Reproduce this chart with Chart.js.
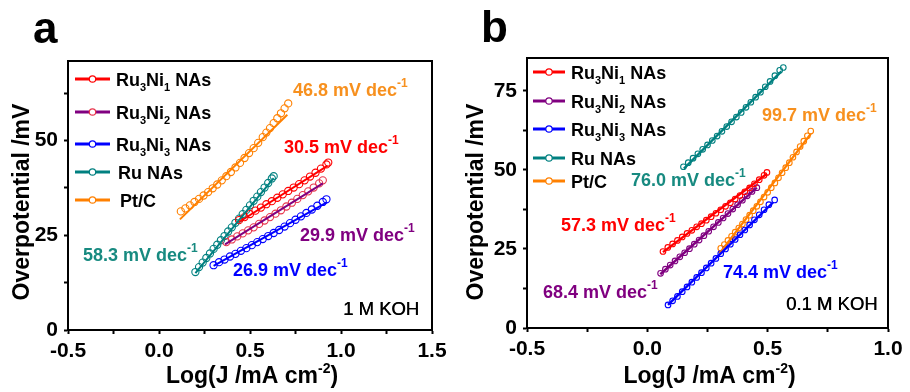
<!DOCTYPE html>
<html><head><meta charset="utf-8">
<script src="https://cdn.jsdelivr.net/npm/chart.js@4.4.0/dist/chart.umd.min.js"></script>
<style>
html,body{margin:0;padding:0;background:#fff;}
#wrap{position:relative;width:910px;height:392px;overflow:hidden;}
.c{position:absolute;top:0;width:455px;height:392px;}
</style></head><body>
<div id="wrap">
<div class="c" style="left:0"><canvas id="ca" width="455" height="392"></canvas></div>
<div class="c" style="left:455px"><canvas id="cb" width="455" height="392"></canvas></div>
</div>
<script>
// ---------- series names & colours ----------
const SERIES = ['Ru3Ni1 NAs','Ru3Ni2 NAs','Ru3Ni3 NAs','Ru NAs','Pt/C'];
const COLORS = ['#ff0000','#800080','#0000ff','#008080','#ff8000'];

// ---------- panel a (1 M KOH) ----------
const A_RU3NI1_X = [0.44,0.47,0.50,0.53,0.56,0.59,0.62,0.65,0.68,0.71,0.74,0.77,0.80,0.83,0.86,0.89,0.92,0.93];
const A_RU3NI1_Y = [29.0,29.8,30.6,31.5,32.3,33.2,34.0,34.9,35.8,36.7,37.6,38.5,39.5,40.5,41.5,42.6,43.7,44.2];
const A_RU3NI2_X = [0.37,0.40,0.43,0.46,0.49,0.52,0.55,0.58,0.61,0.64,0.67,0.70,0.73,0.76,0.79,0.82,0.85,0.88,0.90];
const A_RU3NI2_Y = [23.2,23.9,24.7,25.5,26.3,27.1,28.0,28.9,29.8,30.7,31.6,32.6,33.6,34.6,35.6,36.6,37.6,38.7,39.5];
const A_RU3NI3_X = [0.30,0.33,0.36,0.39,0.42,0.45,0.48,0.51,0.54,0.57,0.60,0.63,0.66,0.69,0.72,0.75,0.78,0.81,0.84,0.87,0.90,0.92];
const A_RU3NI3_Y = [17.1,17.9,18.6,19.4,20.1,20.9,21.6,22.4,23.2,24.0,24.8,25.6,26.4,27.3,28.2,29.1,30.0,30.9,31.8,32.8,33.8,34.5];
const A_RU_X = [0.20,0.22,0.24,0.26,0.28,0.30,0.32,0.34,0.36,0.38,0.40,0.42,0.44,0.46,0.48,0.50,0.52,0.54,0.56,0.58,0.60,0.62,0.63];
const A_RU_Y = [15.3,16.6,17.8,19.0,20.2,21.4,22.5,23.7,24.8,26.0,27.1,28.3,29.4,30.6,31.7,32.9,34.1,35.2,36.4,37.6,38.8,40.0,40.6];
const A_PTC_X = [0.12,0.145,0.17,0.195,0.22,0.245,0.27,0.295,0.32,0.345,0.37,0.395,0.42,0.445,0.47,0.495,0.52,0.545,0.57,0.59,0.61,0.63,0.65,0.67,0.69,0.71];
const A_PTC_Y = [31.3,32.1,32.9,33.8,34.6,35.5,36.4,37.4,38.4,39.5,40.6,41.7,42.9,44.1,45.4,46.7,48.0,49.4,50.9,52.1,53.3,54.6,55.9,57.2,58.5,59.8];
// fitted Tafel lines (endpoints)
const A_FIT_X = [[0.44,0.925],[0.363,0.90],[0.30,0.92],[0.20,0.63],[0.115,0.705]];
const A_FIT_Y = [[28.5,43.3],[22.6,38.7],[16.9,33.6],[15.0,40.1],[29.2,56.8]];
const A_SLOPES = ['30.5','29.9','26.9','58.3','46.8'];

// ---------- panel b (0.1 M KOH) ----------
const B_RU3NI1_X = [0.065,0.085,0.105,0.125,0.145,0.165,0.185,0.205,0.225,0.245,0.265,0.285,0.305,0.325,0.345,0.365,0.385,0.405,0.425,0.445,0.465,0.485,0.497];
const B_RU3NI1_Y = [24.2,25.5,26.6,27.7,28.8,29.9,30.9,32.0,33.0,34.1,35.2,36.3,37.4,38.5,39.6,40.8,41.9,43.1,44.3,45.6,46.9,48.3,49.2];
const B_RU3NI2_X = [0.055,0.075,0.095,0.115,0.135,0.155,0.175,0.195,0.215,0.235,0.255,0.275,0.295,0.315,0.335,0.355,0.375,0.395,0.415,0.435,0.455];
const B_RU3NI2_Y = [17.3,18.6,19.9,21.2,22.5,23.8,25.1,26.5,27.8,29.2,30.6,32.0,33.4,34.8,36.2,37.6,39.0,40.4,41.8,43.2,44.4];
const B_RU3NI3_X = [0.086,0.105,0.125,0.145,0.165,0.185,0.205,0.225,0.245,0.265,0.285,0.305,0.325,0.345,0.365,0.385,0.405,0.425,0.445,0.465,0.485,0.505,0.529];
const B_RU3NI3_Y = [7.3,8.6,10.0,11.5,13.0,14.5,16.0,17.5,19.0,20.5,22.0,23.5,25.0,26.5,28.0,29.5,31.0,32.6,34.2,35.8,37.4,39.0,40.5];
const B_RU_X = [0.15,0.17,0.19,0.21,0.23,0.25,0.27,0.29,0.31,0.33,0.35,0.37,0.39,0.41,0.43,0.45,0.47,0.49,0.51,0.53,0.55,0.565];
const B_RU_Y = [51.0,52.3,53.7,55.1,56.5,57.9,59.3,60.7,62.2,63.7,65.2,66.7,68.2,69.8,71.4,73.0,74.6,76.3,78.0,79.8,81.5,82.4];
const B_PTC_X = [0.305,0.32,0.335,0.35,0.365,0.38,0.395,0.41,0.425,0.44,0.455,0.47,0.485,0.50,0.515,0.53,0.545,0.56,0.575,0.59,0.605,0.62,0.635,0.65,0.665,0.679];
const B_PTC_Y = [25.2,26.4,27.7,29.0,30.3,31.6,32.9,34.3,35.7,37.1,38.5,39.9,41.4,42.9,44.4,45.9,47.5,49.1,50.7,52.3,54.0,55.7,57.4,59.1,60.8,62.3];
const B_FIT_X = [[0.065,0.497],[0.054,0.455],[0.086,0.522],[0.152,0.557],[0.30,0.679]];
const B_FIT_Y = [[24.0,48.8],[17.0,44.4],[7.3,39.7],[50.4,81.2],[23.6,61.4]];
const B_SLOPES = ['57.3','68.4','74.4','76.0','99.7'];

// ---------- axes ----------
const A_XTICKS = [-0.5,0,0.5,1.0,1.5];
const A_XLABELS = ['-0.5','0.0','0.5','1.0','1.5'];
const A_XMINOR = [-0.25,0.25,0.75,1.25];
const A_YTICKS = [0,25,50];
const A_YLABELS = ['0','25','50'];
const A_YMINOR = [12.5,37.5,62.5];
const B_XTICKS = [-0.5,0,0.5,1.0];
const B_XLABELS = ['-0.5','0.0','0.5','1.0'];
const B_XMINOR = [-0.25,0.25,0.75];
const B_YTICKS = [0,25,50,75];
const B_YLABELS = ['0','25','50','75'];
const B_YMINOR = [12.5,37.5,62.5];

const FONT = "'Liberation Sans', Arial, sans-serif";

function pts(xs, ys){ return xs.map((x,i)=>({x:x, y:ys[i]})); }

function richWidth(ctx, parts){
  let w=0; for(const p of parts){ ctx.font = p.f; w += ctx.measureText(p.t).width; } return w;
}
function drawRich(ctx, parts, x, y, color, align){
  ctx.save(); ctx.fillStyle=color; ctx.textBaseline='alphabetic'; ctx.textAlign='left';
  let cx = x;
  if(align==='center') cx = x - richWidth(ctx, parts)/2;
  for(const p of parts){ ctx.font=p.f; ctx.fillText(p.t, cx, y + (p.dy||0)); cx += ctx.measureText(p.t).width; }
  ctx.restore();
}
function nameParts(name, size){
  const big = 'bold '+size+'px '+FONT, small = 'bold '+Math.round(size*0.62)+'px '+FONT;
  const m = name.match(/^Ru3Ni(\d) NAs$/);
  if(m) return [{t:'Ru',f:big},{t:'3',f:small,dy:5},{t:'Ni',f:big},{t:m[1],f:small,dy:5},{t:' NAs',f:big}];
  return [{t:name,f:big}];
}
function slopeParts(s){
  const big='bold 18px '+FONT, small='bold 12px '+FONT;
  return [{t:s+' mV dec',f:big},{t:'-1',f:small,dy:-9}];
}

function makeChart(id, cfg){
  const datasets = [];
  cfg.series.forEach((s,i)=>{
    datasets.push({data: pts(s.x, s.y), showLine:false, pointRadius:cfg.r, pointStyle:'circle',
      pointBorderColor:s.mc || COLORS[i], pointBackgroundColor:'rgba(255,255,255,0)', pointBorderWidth:1.1, order:2});
    datasets.push({data: pts(cfg.fitX[i], cfg.fitY[i]), showLine:true, pointRadius:0, borderColor:COLORS[i],
      borderWidth:cfg.lw, fill:false, order:1});
  });
  const ticksFor = (majors, minors) => (scale)=>{
    scale.ticks = majors.concat(minors).sort((a,b)=>a-b).map(v=>({value:v}));
  };
  const lab = (majors, labels) => (v)=>{
    const i = majors.findIndex(m=>Math.abs(m-v)<1e-9); return i>=0 ? labels[i] : '';
  };
  const deco = {
    id:'deco',
    afterDraw(chart){
      const ctx = chart.ctx, a = chart.chartArea;
      ctx.save();
      ctx.strokeStyle='#000'; ctx.lineWidth=2;
      ctx.beginPath(); ctx.moveTo(a.left, a.top); ctx.lineTo(a.right, a.top); ctx.lineTo(a.right, a.bottom); ctx.stroke();
      // panel letter
      ctx.fillStyle='#000'; ctx.font='bold 44px '+FONT; ctx.textBaseline='alphabetic';
      ctx.fillText(cfg.letter, cfg.letterX, cfg.letterY);
      // axis titles
      drawRich(ctx, [{t:'Log(J /mA cm',f:'bold 23px '+FONT},{t:'-2',f:'bold 14px '+FONT,dy:-10},{t:')',f:'bold 23px '+FONT}],
        (a.left+a.right)/2 + 2, 383, '#000', 'center');
      ctx.save(); ctx.translate(cfg.yTitleX, 202); ctx.rotate(-Math.PI/2);
      ctx.font='bold 23px '+FONT; ctx.textAlign='center'; ctx.textBaseline='middle'; ctx.fillStyle='#000';
      ctx.fillText('Overpotential /mV', 0, 0); ctx.restore();
      // legend
      cfg.legend.forEach((L,i)=>{
        ctx.strokeStyle=COLORS[i]; ctx.lineWidth=3;
        ctx.beginPath(); ctx.moveTo(L.x0, L.y); ctx.lineTo(L.x1, L.y); ctx.stroke();
        ctx.lineWidth=1.2; ctx.fillStyle='#fff'; ctx.strokeStyle=(cfg.series[i].mc||COLORS[i]);
        ctx.beginPath(); ctx.arc((L.x0+L.x1)/2, L.y, 3.2, 0, Math.PI*2); ctx.fill(); ctx.stroke();
        drawRich(ctx, nameParts(SERIES[i], 18), L.tx, L.y+6.5, '#000', 'left');
      });
      // slope annotations
      cfg.ann.forEach((an,i)=>{ drawRich(ctx, slopeParts(cfg.slopes[i]), an.x, an.y, an.c, 'left'); });
      ctx.font='18.5px '+FONT; ctx.fillStyle='#000'; ctx.textAlign='left';
      ctx.fillText(cfg.koh, cfg.kohX, cfg.kohY);
      ctx.fillText(cfg.koh, cfg.kohX+0.4, cfg.kohY);
      ctx.restore();
    }
  };
  return new Chart(document.getElementById(id), {
    type:'scatter',
    data:{datasets},
    options:{
      responsive:false, animation:false, devicePixelRatio:1,
      layout:{padding:{left:0, right:cfg.padR, top:cfg.padT, bottom:0}},
      plugins:{legend:{display:false}, tooltip:{enabled:false}},
      scales:{
        x:{type:'linear', min:cfg.xmin, max:cfg.xmax,
          afterBuildTicks: ticksFor(cfg.xt, cfg.xm),
          afterFit:(s)=>{ s.height = cfg.xh; },
          border:{display:true, color:'#000', width:2},
          grid:{drawOnChartArea:false, drawTicks:true, tickLength:4, tickWidth:2, tickColor:'#000'},
          ticks:{autoSkip:false, maxRotation:0, padding:5, color:'#000', font:{family:FONT, weight:'bold', size:21},
            callback: lab(cfg.xt, cfg.xl)}},
        y:{type:'linear', min:0, max:cfg.ymax,
          afterBuildTicks: ticksFor(cfg.yt, cfg.ym),
          afterFit:(s)=>{ s.width = cfg.yw; },
          border:{display:true, color:'#000', width:2},
          grid:{drawOnChartArea:false, drawTicks:true, tickLength:4, tickWidth:2, tickColor:'#000'},
          ticks:{autoSkip:false, padding:6, color:'#000', font:{family:FONT, weight:'bold', size:21},
            callback: lab(cfg.yt, cfg.yl)}}
      }
    },
    plugins:[deco]
  });
}

makeChart('ca', {
  series:[{x:A_RU3NI1_X,y:A_RU3NI1_Y},{x:A_RU3NI2_X,y:A_RU3NI2_Y,mc:'#e8344c'},{x:A_RU3NI3_X,y:A_RU3NI3_Y},{x:A_RU_X,y:A_RU_Y},{x:A_PTC_X,y:A_PTC_Y}],
  fitX:A_FIT_X, fitY:A_FIT_Y, slopes:A_SLOPES, r:3.6, lw:2,
  xmin:-0.5, xmax:1.5, ymax:71, xt:A_XTICKS, xl:A_XLABELS, xm:A_XMINOR, yt:A_YTICKS, yl:A_YLABELS, ym:A_YMINOR,
  padR:23, padT:61, xh:62, yw:68,
  letter:'a', letterX:33, letterY:43, yTitleX:23,
  legend:[{x0:75,x1:110,y:79,tx:116},{x0:75,x1:110,y:112,tx:116},{x0:75,x1:110,y:144,tx:116},{x0:75,x1:110,y:172,tx:118},{x0:75,x1:110,y:200,tx:120}],
  ann:[{x:284,y:153,c:'#ff0000'},{x:300,y:241,c:'#800080'},{x:233,y:276,c:'#0000ff'},{x:83,y:261,c:'#178a80'},{x:293,y:96,c:'#f7901e'}],
  koh:'1 M KOH', kohX:343, kohY:315
});
makeChart('cb', {
  series:[{x:B_RU3NI1_X,y:B_RU3NI1_Y},{x:B_RU3NI2_X,y:B_RU3NI2_Y},{x:B_RU3NI3_X,y:B_RU3NI3_Y},{x:B_RU_X,y:B_RU_Y},{x:B_PTC_X,y:B_PTC_Y}],
  fitX:B_FIT_X, fitY:B_FIT_Y, slopes:B_SLOPES, r:2.8, lw:2.4,
  xmin:-0.5, xmax:1.0, ymax:85.4, xt:B_XTICKS, xl:B_XLABELS, xm:B_XMINOR, yt:B_YTICKS, yl:B_YLABELS, ym:B_YMINOR,
  padR:22, padT:58, xh:64, yw:72,
  letter:'b', letterX:26, letterY:42, yTitleX:22,
  legend:[{x0:78,x1:110,y:72,tx:116},{x0:78,x1:110,y:101,tx:116},{x0:78,x1:110,y:129,tx:116},{x0:78,x1:110,y:158,tx:116},{x0:78,x1:110,y:181,tx:116}],
  ann:[{x:106,y:231,c:'#ff0000'},{x:88,y:298,c:'#800080'},{x:268,y:278,c:'#0000ff'},{x:176,y:186,c:'#178a80'},{x:307,y:121,c:'#f7901e'}],
  koh:'0.1 M KOH', kohX:331, kohY:310
});
</script>
</body></html>
